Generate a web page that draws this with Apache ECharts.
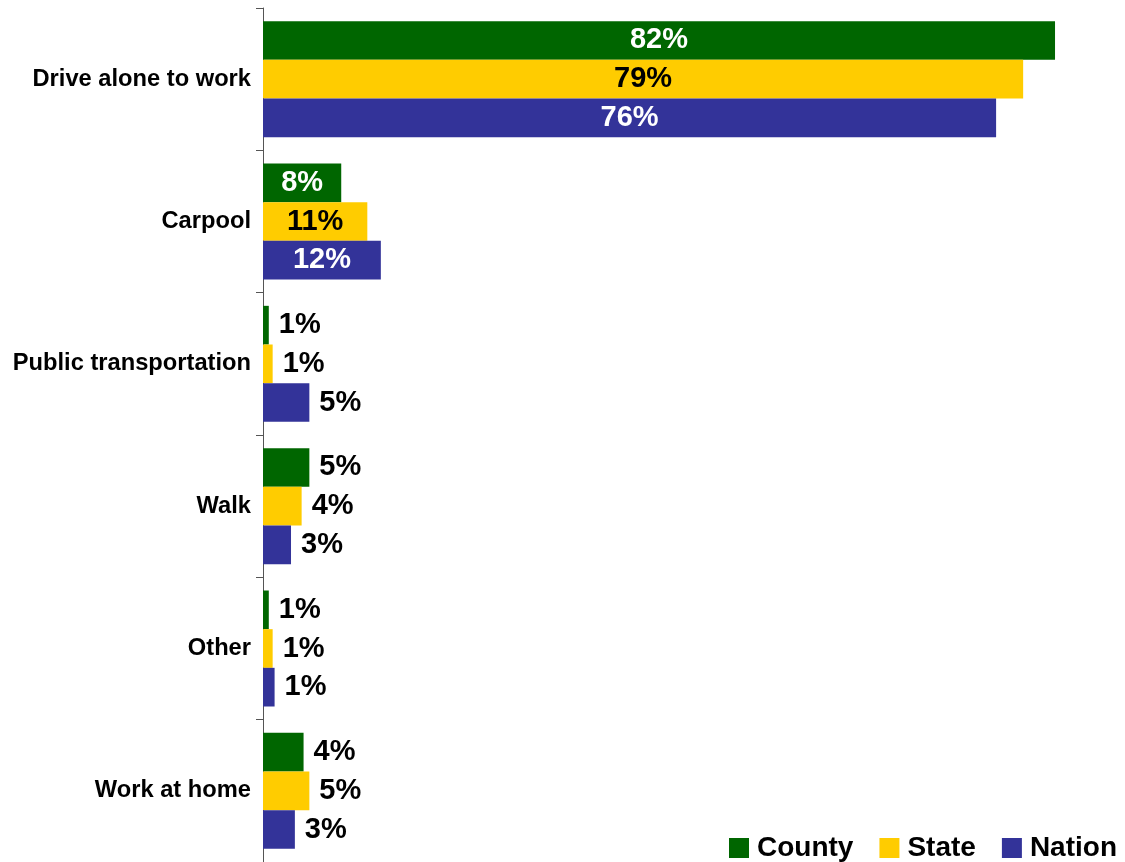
<!DOCTYPE html>
<html>
<head>
<meta charset="utf-8">
<script src="https://cdn.jsdelivr.net/npm/echarts@6/dist/echarts.min.js"></script>
<style>
  html, body { margin: 0; padding: 0; background: #fff; }
  #chart { width: 1125px; height: 862px; }
</style>
</head>
<body>
<div id="chart"></div>
<script>
const categories = ['Drive alone to work', 'Carpool', 'Public transportation', 'Walk', 'Other', 'Work at home']
const county = [82, 8.1, 0.6, 4.8, 0.6, 4.2]
const state = [78.7, 10.8, 1.0, 4.0, 1.0, 4.8]
const nation = [75.9, 12.2, 4.8, 2.9, 1.2, 3.3]

const font = 'Arial, "Liberation Sans", sans-serif'

function makeData(values, insideColor) {
  return values.map(v => {
    const inside = v >= 7
    return {
      value: v,
      label: {
        position: inside ? 'inside' : 'right',
        distance: 10,
        color: inside ? insideColor : '#000'
      }
    }
  })
}

function makeSeries(name, values, color, insideColor) {
  return {
    name: name,
    type: 'bar',
    barGap: '0%',
    barCategoryGap: '18.5%',
    itemStyle: { color: color },
    label: {
      show: true,
      fontFamily: font,
      fontWeight: 'bold',
      fontSize: 29,
      padding: [3, 0, 0, 0],
      formatter: p => Math.round(p.value) + '%'
    },
    data: makeData(values, insideColor)
  }
}

const chart = echarts.init(document.getElementById('chart'))
chart.setOption({
  animation: false,
  backgroundColor: '#fff',
  grid: { left: 263, right: 41, top: 8, bottom: 0, containLabel: false },
  legend: {
    right: 3,
    top: 829,
    itemWidth: 20,
    itemHeight: 20,
    itemGap: 26,
    icon: 'rect',
    data: ['County', 'State', 'Nation'],
    textStyle: {
      fontFamily: font,
      fontWeight: 'bold',
      fontSize: 28,
      color: '#000',
      padding: [0, 0, 0, 3]
    }
  },
  xAxis: {
    type: 'value',
    min: 0,
    max: 85,
    show: false
  },
  yAxis: {
    type: 'category',
    inverse: true,
    data: categories,
    axisLine: { show: true, lineStyle: { color: '#555', width: 1 } },
    axisTick: { show: true, length: 7, lineStyle: { color: '#555' } },
    axisLabel: {
      margin: 12,
      fontFamily: font,
      fontWeight: 'bold',
      fontSize: 23.7,
      color: '#000',
      padding: [4, 0, 0, 0]
    }
  },
  series: [
    makeSeries('County', county, '#006600', '#fff'),
    makeSeries('State', state, '#ffcc00', '#000'),
    makeSeries('Nation', nation, '#333399', '#fff')
  ]
})
</script>
</body>
</html>
